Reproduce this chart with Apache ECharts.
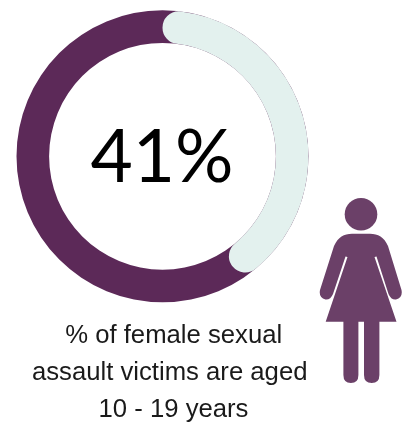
<!DOCTYPE html>
<html>
<head>
<meta charset="utf-8">
<style>html,body{margin:0;padding:0;background:#fff}#chart{width:402px;height:423px}</style>
<script src="https://cdn.jsdelivr.net/npm/echarts@6/dist/echarts.min.js"></script>
</head>
<body>
<div id="chart"></div>
<script>
// Share of victims in the age band, and everyone else
const categories = ['Aged 10 - 19', 'Other ages'];
const shareValues = [41, 59];
const headline = '41%';
const captionLines = ['% of female sexual', 'assault victims are aged', '10 - 19 years'];
const captionCenters = [173.7, 169.7, 173.5];

// Body outline of the woman pictogram, registered as a reusable shape
echarts.graphic.registerShape('womanBody', echarts.graphic.extendPath(
  'M352 233.7 L370 233.7 C378 233.7 384 237 388 246 L401.5 290 Q403 298 396 299.5 Q391 300 388.5 294 L376.5 256.5 L374.5 257 L396.5 321.7 L379.4 321.7 L379.4 375 Q379.4 383 371.7 383 Q364 383 364 375 L364 321.7 L358.4 321.7 L358.4 375 Q358.4 383 350.9 383 Q343.4 383 343.4 375 L343.4 321.7 L325.7 321.7 L347.5 257 L345.5 256.5 L333 294 Q330.5 300 325.5 299.5 Q318.5 298 320 290 L334 246 C338 237 344 233.7 352 233.7 Z'
));

const chart = echarts.init(document.getElementById('chart'), null, {renderer: 'canvas'});
const ringCenter = [162.5, 156.3];
const ringRadius = [113.4, 146];
const total = shareValues.reduce((a, b) => a + b, 0);

const pieBase = {
  type: 'pie', center: ringCenter, radius: ringRadius, startAngle: 90, clockwise: true,
  silent: true, animation: false, label: {show: false}, labelLine: {show: false}
};

chart.setOption({
  animation: false,
  backgroundColor: '#ffffff',
  series: [
    // Full purple track, one unbroken ring
    Object.assign({}, pieBase, {
      data: [{name: 'All victims', value: total}],
      itemStyle: {color: '#5c2958', borderWidth: 0}
    }),
    // Highlighted share with rounded ends, laid over the track
    Object.assign({}, pieBase, {
      data: categories.map((name, i) => ({
        name,
        value: shareValues[i],
        itemStyle: i === 0
          ? {color: '#e3f1ee', borderRadius: 16.3}
          : {color: 'rgba(0,0,0,0)'}
      }))
    })
  ],
  graphic: [
    {type: 'text', silent: true, z: 10,
      style: {x: 162, y: 158, text: headline, fill: '#000', font: '73px Lato, sans-serif',
        textAlign: 'center', textVerticalAlign: 'middle'}},
    ...captionLines.map((line, i) => ({
      type: 'text', silent: true, z: 10,
      style: {x: captionCenters[i], y: 336 + i * 37, text: line, fill: '#1a1a1a', font: '25.7px "Liberation Sans", Arial, sans-serif',
        textAlign: 'center', textVerticalAlign: 'middle'}
    })),
    // Woman pictogram
    {type: 'circle', silent: true, z: 10, shape: {cx: 361, cy: 214.3, r: 16.3}, style: {fill: '#6b4068'}},
    {type: 'womanBody', silent: true, z: 10, style: {fill: '#6b4068'}}
  ]
});
</script>
</body>
</html>
